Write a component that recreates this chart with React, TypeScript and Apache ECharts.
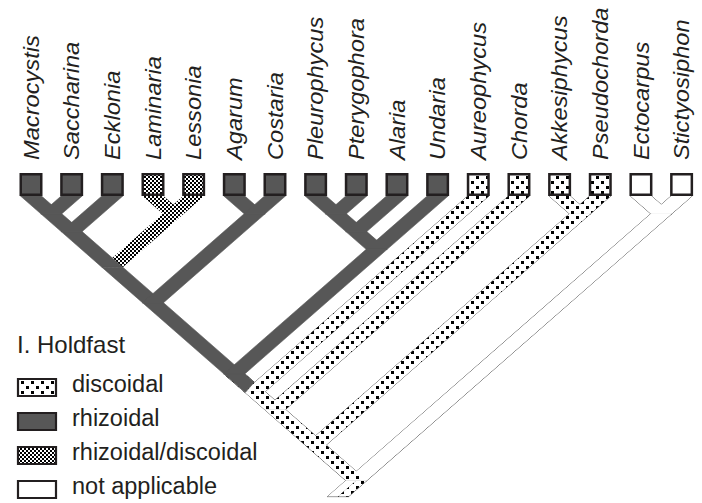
import React, { useEffect, useRef } from "react";
import * as echarts from "echarts";

// ---- data ----
const taxa = [
  "Macrocystis", "Saccharina", "Ecklonia", "Laminaria", "Lessonia", "Agarum", "Costaria",
  "Pleurophycus", "Pterygophora", "Alaria", "Undaria", "Aureophycus", "Chorda",
  "Akkesiphycus", "Pseudochorda", "Ectocarpus", "Stictyosiphon",
];
const holdfastStates = ["not applicable", "discoidal", "rhizoidal/discoidal", "rhizoidal"];
const leafState = [
  "rhizoidal", "rhizoidal", "rhizoidal", "rhizoidal/discoidal", "rhizoidal/discoidal", "rhizoidal", "rhizoidal",
  "rhizoidal", "rhizoidal", "rhizoidal", "rhizoidal", "discoidal", "discoidal",
  "discoidal", "discoidal", "not applicable", "not applicable",
];
// each branch: clade (first leaf, last leaf) -> parent clade (first leaf, last leaf)
const branchFrom: [number, number][] = [
  [0, 0], [1, 1], [0, 1], [2, 2], [0, 2], [3, 3], [4, 4], [3, 4], [0, 4], [5, 5], [6, 6], [5, 6], [0, 6],
  [7, 7], [8, 8], [7, 8], [9, 9], [7, 9], [10, 10], [7, 10], [0, 10], [11, 11], [0, 11], [12, 12], [0, 12],
  [13, 13], [14, 14], [13, 14], [0, 14], [15, 15], [16, 16], [15, 16],
];
const branchTo: [number, number][] = [
  [0, 1], [0, 1], [0, 2], [0, 2], [0, 4], [3, 4], [3, 4], [0, 4], [0, 6], [5, 6], [5, 6], [0, 6], [0, 10],
  [7, 8], [7, 8], [7, 9], [7, 9], [7, 10], [7, 10], [0, 10], [0, 11], [0, 11], [0, 12], [0, 12], [0, 14],
  [13, 14], [13, 14], [0, 14], [0, 16], [15, 16], [15, 16], [0, 16],
];
const branchState = [
  "rhizoidal", "rhizoidal", "rhizoidal", "rhizoidal", "rhizoidal",
  "rhizoidal/discoidal", "rhizoidal/discoidal", "rhizoidal/discoidal",
  "rhizoidal", "rhizoidal", "rhizoidal", "rhizoidal", "rhizoidal",
  "rhizoidal", "rhizoidal", "rhizoidal", "rhizoidal", "rhizoidal", "rhizoidal", "rhizoidal",
  "discoidal", "discoidal", "discoidal", "discoidal", "discoidal",
  "discoidal", "discoidal", "discoidal", "discoidal",
  "not applicable", "not applicable", "not applicable",
];
// how far (in depth units) a branch's colour runs past its parent node
const branchOverrun = [
  0, 0, 0, 0, 0, 0, 0, 0, 0, 0, 0, 0, 0.38,
  0, 0, 0, 0, 0, 0, 0, 0, 0, 0, 0, 0,
  0, 0, 0, 0, 0, 0, 0,
];
const rootClade: [number, number] = [0, 16];
const rootStemLength = 0.45;
const rootStemStates = ["not applicable", "discoidal"]; // left half, right half
const legendTitle = "I. Holdfast";
const legendItems = ["discoidal", "rhizoidal", "rhizoidal/discoidal", "not applicable"];

const nodeX = (c: [number, number]) => (c[0] + c[1]) / 2;
const nodeD = (c: [number, number]) => (c[1] - c[0]) / 2;

export default function App() {
  const ref = useRef<HTMLDivElement>(null);
  useEffect(() => {
    document.body.style.margin = "0";
    const chart = echarts.init(ref.current!, null, { renderer: "svg" });

    const dotCanvas = document.createElement("canvas");
    dotCanvas.width = 10;
    dotCanvas.height = 10;
    const dc = dotCanvas.getContext("2d")!;
    dc.fillStyle = "#ffffff";
    dc.fillRect(0, 0, 10, 10);
    dc.fillStyle = "#000000";
    dc.fillRect(1, 1, 3, 3);
    dc.fillRect(6, 6, 3, 3);

    const chkCanvas = document.createElement("canvas");
    chkCanvas.width = 4;
    chkCanvas.height = 4;
    const cc = chkCanvas.getContext("2d")!;
    cc.fillStyle = "#ffffff";
    cc.fillRect(0, 0, 4, 4);
    cc.fillStyle = "#000000";
    cc.fillRect(0, 0, 2, 2);
    cc.fillRect(2, 2, 2, 2);

    const DARK = "#575757";
    const INK = "#231f20";
    const fills: Record<string, any> = {
      "not applicable": "#ffffff",
      discoidal: { image: dotCanvas, repeat: "repeat" },
      "rhizoidal/discoidal": { image: chkCanvas, repeat: "repeat" },
      rhizoidal: DARK,
    };
    const outlined = (s: string) => s === "discoidal" || s === "not applicable";

    // rows: [fromX, fromD, toX, toD, stateIdx, half, overrun]
    const rows: number[][] = branchFrom.map((f, i) => [
      nodeX(f), nodeD(f), nodeX(branchTo[i]), nodeD(branchTo[i]),
      holdfastStates.indexOf(branchState[i]), 0, branchOverrun[i],
    ]);
    const rx = nodeX(rootClade), rd = nodeD(rootClade);
    rows.push([rx, rd, rx - rootStemLength, rd + rootStemLength, holdfastStates.indexOf(rootStemStates[0]), -1, 0]);
    rows.push([rx, rd, rx - rootStemLength, rd + rootStemLength, holdfastStates.indexOf(rootStemStates[1]), 1, 0]);

    const outlineRows = rows.filter((r) => outlined(holdfastStates[r[4]]));
    const fillRows = rows.slice().sort((a, b) => a[4] - b[4]);

    const H = 10.5;
    const bandShape = (api: any) => {
      const fx = api.value(0), fd = api.value(1), tx = api.value(2), td = api.value(3);
      const half = api.value(5);
      const ext = api.value(6) || 0;
      const p1 = api.coord([fx, fd]);
      const l = half === 1 ? 0 : -H;
      const r = half === -1 ? 0 : H;
      if (ext > 0) {
        const sx = Math.sign(tx - fx);
        const pe = api.coord([tx + sx * ext, td + ext]);
        let dx = pe[0] - p1[0], dy = pe[1] - p1[1];
        const len = Math.hypot(dx, dy);
        dx /= len;
        dy /= len;
        const w = H * Math.abs(dy);
        const n1 = [-dy * Math.sign(dx || 1), dx * Math.sign(dx || 1)];
        return {
          points: [
            [p1[0] - H, p1[1]],
            [p1[0] + H, p1[1]],
            [pe[0] - w * n1[0], pe[1] - w * n1[1]],
            [pe[0] + w * n1[0], pe[1] + w * n1[1]],
          ],
        };
      }
      const p2 = api.coord([tx, td]);
      return {
        points: [
          [p1[0] + l, p1[1]],
          [p1[0] + r, p1[1]],
          [p2[0] + r, p2[1]],
          [p2[0] + l, p2[1]],
        ],
      };
    };

    const font = "'Liberation Sans', Arial, Helvetica, sans-serif";

    const legendGraphics: any[] = [
      {
        type: "text",
        x: 17,
        y: 344,
        style: { text: legendTitle, font: `24px ${font}`, fill: INK, verticalAlign: "middle", align: "left" },
      },
    ];
    const rowCenters = [387.5, 421.5, 455.5, 489.5];
    legendItems.forEach((s, i) => {
      legendGraphics.push({
        type: "rect",
        shape: { x: 18, y: rowCenters[i] - 8.5, width: 38, height: 17 },
        style: { fill: fills[s], stroke: INK, lineWidth: 2.2 },
      });
      legendGraphics.push({
        type: "text",
        x: 72,
        y: rowCenters[i] - 3.5,
        style: { text: s, font: `23.5px ${font}`, fill: INK, verticalAlign: "middle", align: "left" },
      });
    });

    const option: any = {
      animation: false,
      backgroundColor: "#ffffff",
      grid: { left: 31, right: 20.4, top: 196, bottom: 22.4, containLabel: false, outerBoundsMode: "none" },
      xAxis: { type: "value", min: 0, max: 16, show: false, splitLine: { show: false } },
      yAxis: { type: "value", min: 0, max: 8, inverse: true, show: false, splitLine: { show: false } },
      graphic: legendGraphics,
      series: [
        {
          type: "custom",
          name: "outline",
          clip: false,
          silent: true,
          data: outlineRows,
          renderItem: (params: any, api: any) => ({
            type: "polygon",
            shape: bandShape(api),
            style: { fill: "none", stroke: "#4a4a4a", lineWidth: 1 },
          }),
        },
        {
          type: "custom",
          name: "branches",
          clip: false,
          silent: true,
          data: fillRows,
          renderItem: (params: any, api: any) => {
            const st = holdfastStates[api.value(4)];
            const solid = st === "rhizoidal";
            return {
              type: "polygon",
              shape: bandShape(api),
              style: {
                fill: fills[st],
                stroke: solid ? DARK : null,
                lineWidth: solid ? 0.6 : 0,
              },
            };
          },
        },
        {
          type: "custom",
          name: "leaves",
          clip: false,
          silent: true,
          data: taxa.map((t, i) => [i, 0, holdfastStates.indexOf(leafState[i])]),
          renderItem: (params: any, api: any) => {
            const i = api.value(0);
            const p = api.coord([i, api.value(1)]);
            const st = holdfastStates[api.value(2)];
            return {
              type: "group",
              children: [
                {
                  type: "rect",
                  shape: { x: p[0] - 10.25, y: p[1] - 21.75, width: 20.5, height: 20.5 },
                  style: { fill: fills[st], stroke: INK, lineWidth: 2.5 },
                },
                {
                  type: "text",
                  x: p[0],
                  y: p[1] - 36,
                  rotation: Math.PI / 2,
                  scaleX: 1.075,
                  style: {
                    text: taxa[i],
                    fontSize: 22,
                    fontStyle: "italic",
                    fontFamily: font,
                    fill: INK,
                    align: "left",
                    verticalAlign: "middle",
                  },
                },
              ],
            };
          },
        },
      ],
    };
    chart.setOption(option);
    return () => chart.dispose();
  }, []);
  return (
    <div
      ref={ref}
      style={{ position: "fixed", left: 0, top: 0, width: 702, height: 503, background: "#ffffff" }}
    />
  );
}
